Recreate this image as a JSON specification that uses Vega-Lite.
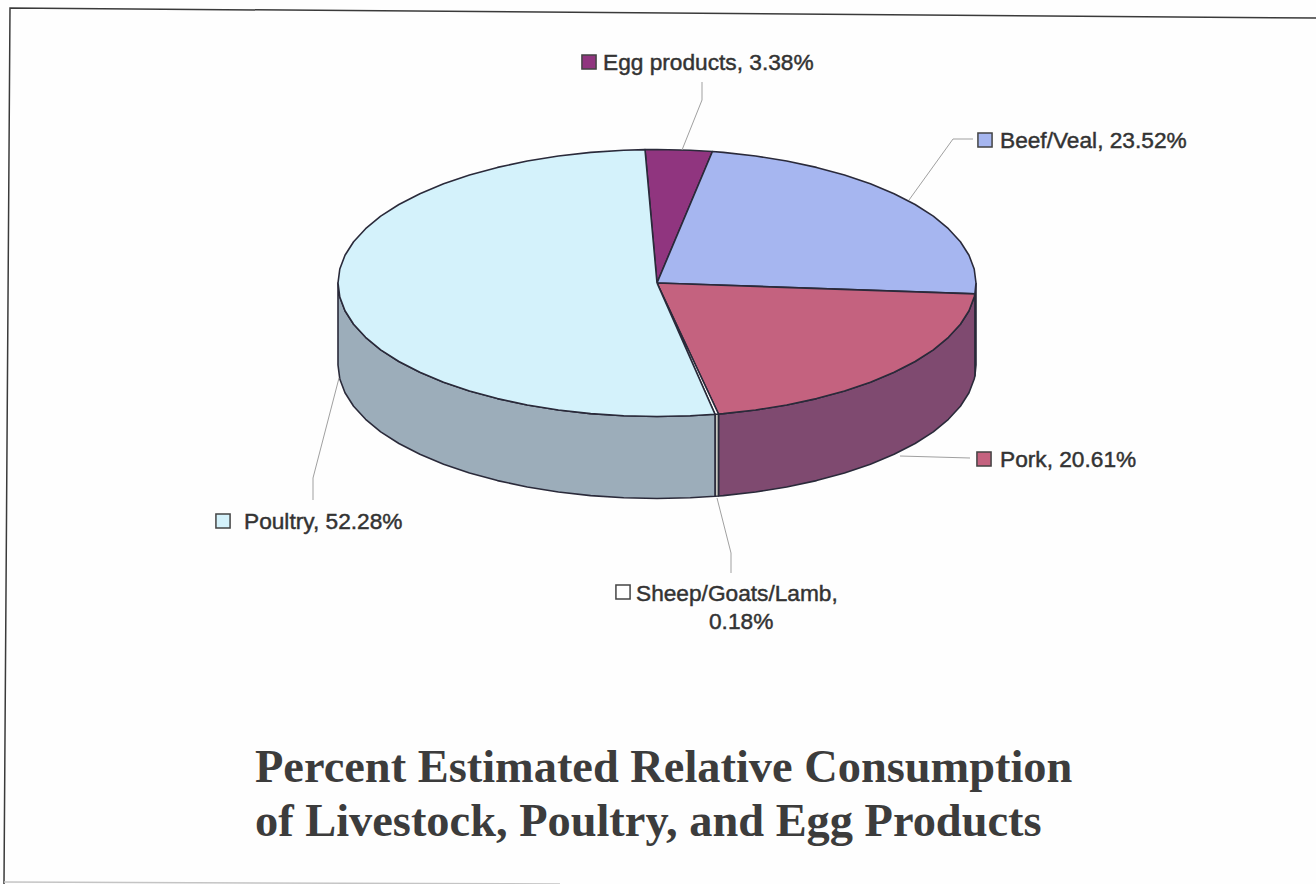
{
  "$schema": "https://vega.github.io/schema/vega-lite/v6.json",
  "width": 1316,
  "height": 884,
  "padding": 0,
  "autosize": "none",
  "background": "#fefefe",
  "view": {"stroke": null},
  "title": {
    "text": ["Percent Estimated Relative Consumption", "of Livestock, Poultry, and Egg Products"],
    "orient": "top",
    "anchor": "start",
    "frame": "group",
    "offset": 0,
    "dx": 255,
    "dy": 882,
    "baseline": "alphabetic",
    "font": "Liberation Serif",
    "fontWeight": "bold",
    "fontSize": 46.4,
    "lineHeight": 54,
    "color": "#3c3c3c"
  },
  "datasets": {
    "slices": [
      {"piece":"Beef/Veal side","n":0,"x":319,"y":0},
      {"piece":"Beef/Veal side","n":1,"x":317.9,"y":-10.9},
      {"piece":"Beef/Veal side","n":2,"x":317.9,"y":-92.9},
      {"piece":"Beef/Veal side","n":3,"x":319,"y":-82},
      {"piece":"Beef/Veal side","n":4,"x":319,"y":0},

      {"piece":"Pork side","n":0,"x":317.9,"y":-10.9},
      {"piece":"Pork side","n":1,"x":317.2,"y":-14},
      {"piece":"Pork side","n":2,"x":312,"y":-27.8},
      {"piece":"Pork side","n":3,"x":303.4,"y":-41.3},
      {"piece":"Pork side","n":4,"x":291.4,"y":-54.3},
      {"piece":"Pork side","n":5,"x":276.3,"y":-66.8},
      {"piece":"Pork side","n":6,"x":258.1,"y":-78.5},
      {"piece":"Pork side","n":7,"x":237.1,"y":-89.3},
      {"piece":"Pork side","n":8,"x":213.4,"y":-99.2},
      {"piece":"Pork side","n":9,"x":187.5,"y":-108},
      {"piece":"Pork side","n":10,"x":159.5,"y":-115.6},
      {"piece":"Pork side","n":11,"x":129.7,"y":-122},
      {"piece":"Pork side","n":12,"x":98.6,"y":-127},
      {"piece":"Pork side","n":13,"x":66.3,"y":-130.6},
      {"piece":"Pork side","n":14,"x":61.5,"y":-131},
      {"piece":"Pork side","n":15,"x":61.5,"y":-213},
      {"piece":"Pork side","n":16,"x":66.3,"y":-212.6},
      {"piece":"Pork side","n":17,"x":98.6,"y":-209},
      {"piece":"Pork side","n":18,"x":129.7,"y":-204},
      {"piece":"Pork side","n":19,"x":159.5,"y":-197.6},
      {"piece":"Pork side","n":20,"x":187.5,"y":-190},
      {"piece":"Pork side","n":21,"x":213.4,"y":-181.2},
      {"piece":"Pork side","n":22,"x":237.1,"y":-171.3},
      {"piece":"Pork side","n":23,"x":258.1,"y":-160.5},
      {"piece":"Pork side","n":24,"x":276.3,"y":-148.8},
      {"piece":"Pork side","n":25,"x":291.4,"y":-136.3},
      {"piece":"Pork side","n":26,"x":303.4,"y":-123.3},
      {"piece":"Pork side","n":27,"x":312,"y":-109.8},
      {"piece":"Pork side","n":28,"x":317.2,"y":-96},
      {"piece":"Pork side","n":29,"x":317.9,"y":-92.9},
      {"piece":"Pork side","n":30,"x":317.9,"y":-10.9},

      {"piece":"Sheep/Goats/Lamb side","n":0,"x":61.5,"y":-131},
      {"piece":"Sheep/Goats/Lamb side","n":1,"x":58,"y":-131.3},
      {"piece":"Sheep/Goats/Lamb side","n":2,"x":58,"y":-213.3},
      {"piece":"Sheep/Goats/Lamb side","n":3,"x":61.5,"y":-213},
      {"piece":"Sheep/Goats/Lamb side","n":4,"x":61.5,"y":-131},

      {"piece":"Poultry side","n":0,"x":58,"y":-131.3},
      {"piece":"Poultry side","n":1,"x":33.3,"y":-132.8},
      {"piece":"Poultry side","n":2,"x":0,"y":-133.5},
      {"piece":"Poultry side","n":3,"x":-33.3,"y":-132.8},
      {"piece":"Poultry side","n":4,"x":-66.3,"y":-130.6},
      {"piece":"Poultry side","n":5,"x":-98.6,"y":-127},
      {"piece":"Poultry side","n":6,"x":-129.7,"y":-122},
      {"piece":"Poultry side","n":7,"x":-159.5,"y":-115.6},
      {"piece":"Poultry side","n":8,"x":-187.5,"y":-108},
      {"piece":"Poultry side","n":9,"x":-213.4,"y":-99.2},
      {"piece":"Poultry side","n":10,"x":-237.1,"y":-89.3},
      {"piece":"Poultry side","n":11,"x":-258.1,"y":-78.5},
      {"piece":"Poultry side","n":12,"x":-276.3,"y":-66.8},
      {"piece":"Poultry side","n":13,"x":-291.4,"y":-54.3},
      {"piece":"Poultry side","n":14,"x":-303.4,"y":-41.3},
      {"piece":"Poultry side","n":15,"x":-312,"y":-27.8},
      {"piece":"Poultry side","n":16,"x":-317.2,"y":-14},
      {"piece":"Poultry side","n":17,"x":-319,"y":0},
      {"piece":"Poultry side","n":18,"x":-319,"y":-82},
      {"piece":"Poultry side","n":19,"x":-317.2,"y":-96},
      {"piece":"Poultry side","n":20,"x":-312,"y":-109.8},
      {"piece":"Poultry side","n":21,"x":-303.4,"y":-123.3},
      {"piece":"Poultry side","n":22,"x":-291.4,"y":-136.3},
      {"piece":"Poultry side","n":23,"x":-276.3,"y":-148.8},
      {"piece":"Poultry side","n":24,"x":-258.1,"y":-160.5},
      {"piece":"Poultry side","n":25,"x":-237.1,"y":-171.3},
      {"piece":"Poultry side","n":26,"x":-213.4,"y":-181.2},
      {"piece":"Poultry side","n":27,"x":-187.5,"y":-190},
      {"piece":"Poultry side","n":28,"x":-159.5,"y":-197.6},
      {"piece":"Poultry side","n":29,"x":-129.7,"y":-204},
      {"piece":"Poultry side","n":30,"x":-98.6,"y":-209},
      {"piece":"Poultry side","n":31,"x":-66.3,"y":-212.6},
      {"piece":"Poultry side","n":32,"x":-33.3,"y":-214.8},
      {"piece":"Poultry side","n":33,"x":0,"y":-215.5},
      {"piece":"Poultry side","n":34,"x":33.3,"y":-214.8},
      {"piece":"Poultry side","n":35,"x":58,"y":-213.3},
      {"piece":"Poultry side","n":36,"x":58,"y":-131.3},

      {"piece":"Egg products","n":0,"x":0,"y":0},
      {"piece":"Egg products","n":1,"x":-12,"y":133.4},
      {"piece":"Egg products","n":2,"x":0,"y":133.5},
      {"piece":"Egg products","n":3,"x":33.3,"y":132.8},
      {"piece":"Egg products","n":4,"x":55.4,"y":131.5},
      {"piece":"Egg products","n":5,"x":0,"y":0},

      {"piece":"Beef/Veal","n":0,"x":0,"y":0},
      {"piece":"Beef/Veal","n":1,"x":55.4,"y":131.5},
      {"piece":"Beef/Veal","n":2,"x":66.3,"y":130.6},
      {"piece":"Beef/Veal","n":3,"x":98.6,"y":127},
      {"piece":"Beef/Veal","n":4,"x":129.7,"y":122},
      {"piece":"Beef/Veal","n":5,"x":159.5,"y":115.6},
      {"piece":"Beef/Veal","n":6,"x":187.5,"y":108},
      {"piece":"Beef/Veal","n":7,"x":213.4,"y":99.2},
      {"piece":"Beef/Veal","n":8,"x":237.1,"y":89.3},
      {"piece":"Beef/Veal","n":9,"x":258.1,"y":78.5},
      {"piece":"Beef/Veal","n":10,"x":276.3,"y":66.8},
      {"piece":"Beef/Veal","n":11,"x":291.4,"y":54.3},
      {"piece":"Beef/Veal","n":12,"x":303.4,"y":41.3},
      {"piece":"Beef/Veal","n":13,"x":312,"y":27.8},
      {"piece":"Beef/Veal","n":14,"x":317.2,"y":14},
      {"piece":"Beef/Veal","n":15,"x":319,"y":0},
      {"piece":"Beef/Veal","n":16,"x":317.9,"y":-10.9},
      {"piece":"Beef/Veal","n":17,"x":0,"y":0},

      {"piece":"Pork","n":0,"x":0,"y":0},
      {"piece":"Pork","n":1,"x":317.9,"y":-10.9},
      {"piece":"Pork","n":2,"x":317.2,"y":-14},
      {"piece":"Pork","n":3,"x":312,"y":-27.8},
      {"piece":"Pork","n":4,"x":303.4,"y":-41.3},
      {"piece":"Pork","n":5,"x":291.4,"y":-54.3},
      {"piece":"Pork","n":6,"x":276.3,"y":-66.8},
      {"piece":"Pork","n":7,"x":258.1,"y":-78.5},
      {"piece":"Pork","n":8,"x":237.1,"y":-89.3},
      {"piece":"Pork","n":9,"x":213.4,"y":-99.2},
      {"piece":"Pork","n":10,"x":187.5,"y":-108},
      {"piece":"Pork","n":11,"x":159.5,"y":-115.6},
      {"piece":"Pork","n":12,"x":129.7,"y":-122},
      {"piece":"Pork","n":13,"x":98.6,"y":-127},
      {"piece":"Pork","n":14,"x":66.3,"y":-130.6},
      {"piece":"Pork","n":15,"x":61.5,"y":-131},
      {"piece":"Pork","n":16,"x":0,"y":0},

      {"piece":"Sheep/Goats/Lamb","n":0,"x":0,"y":0},
      {"piece":"Sheep/Goats/Lamb","n":1,"x":61.5,"y":-131},
      {"piece":"Sheep/Goats/Lamb","n":2,"x":58,"y":-131.3},
      {"piece":"Sheep/Goats/Lamb","n":3,"x":0,"y":0},

      {"piece":"Poultry","n":0,"x":0,"y":0},
      {"piece":"Poultry","n":1,"x":58,"y":-131.3},
      {"piece":"Poultry","n":2,"x":33.3,"y":-132.8},
      {"piece":"Poultry","n":3,"x":0,"y":-133.5},
      {"piece":"Poultry","n":4,"x":-33.3,"y":-132.8},
      {"piece":"Poultry","n":5,"x":-66.3,"y":-130.6},
      {"piece":"Poultry","n":6,"x":-98.6,"y":-127},
      {"piece":"Poultry","n":7,"x":-129.7,"y":-122},
      {"piece":"Poultry","n":8,"x":-159.5,"y":-115.6},
      {"piece":"Poultry","n":9,"x":-187.5,"y":-108},
      {"piece":"Poultry","n":10,"x":-213.4,"y":-99.2},
      {"piece":"Poultry","n":11,"x":-237.1,"y":-89.3},
      {"piece":"Poultry","n":12,"x":-258.1,"y":-78.5},
      {"piece":"Poultry","n":13,"x":-276.3,"y":-66.8},
      {"piece":"Poultry","n":14,"x":-291.4,"y":-54.3},
      {"piece":"Poultry","n":15,"x":-303.4,"y":-41.3},
      {"piece":"Poultry","n":16,"x":-312,"y":-27.8},
      {"piece":"Poultry","n":17,"x":-317.2,"y":-14},
      {"piece":"Poultry","n":18,"x":-319,"y":0},
      {"piece":"Poultry","n":19,"x":-317.2,"y":14},
      {"piece":"Poultry","n":20,"x":-312,"y":27.8},
      {"piece":"Poultry","n":21,"x":-303.4,"y":41.3},
      {"piece":"Poultry","n":22,"x":-291.4,"y":54.3},
      {"piece":"Poultry","n":23,"x":-276.3,"y":66.8},
      {"piece":"Poultry","n":24,"x":-258.1,"y":78.5},
      {"piece":"Poultry","n":25,"x":-237.1,"y":89.3},
      {"piece":"Poultry","n":26,"x":-213.4,"y":99.2},
      {"piece":"Poultry","n":27,"x":-187.5,"y":108},
      {"piece":"Poultry","n":28,"x":-159.5,"y":115.6},
      {"piece":"Poultry","n":29,"x":-129.7,"y":122},
      {"piece":"Poultry","n":30,"x":-98.6,"y":127},
      {"piece":"Poultry","n":31,"x":-66.3,"y":130.6},
      {"piece":"Poultry","n":32,"x":-33.3,"y":132.8},
      {"piece":"Poultry","n":33,"x":-12,"y":133.4},
      {"piece":"Poultry","n":34,"x":0,"y":0}
    ],
    "leaders": [
      {"category":"Egg products","n":0,"x":25,"y":133},
      {"category":"Egg products","n":1,"x":45,"y":183},
      {"category":"Egg products","n":2,"x":45,"y":201},
      {"category":"Beef/Veal","n":0,"x":252,"y":83},
      {"category":"Beef/Veal","n":1,"x":296,"y":144},
      {"category":"Beef/Veal","n":2,"x":316,"y":144},
      {"category":"Pork","n":0,"x":243,"y":-173},
      {"category":"Pork","n":1,"x":313,"y":-175},
      {"category":"Sheep/Goats/Lamb","n":0,"x":60,"y":-215},
      {"category":"Sheep/Goats/Lamb","n":1,"x":74,"y":-270},
      {"category":"Sheep/Goats/Lamb","n":2,"x":74,"y":-290},
      {"category":"Poultry","n":0,"x":-318,"y":-95},
      {"category":"Poultry","n":1,"x":-344,"y":-195},
      {"category":"Poultry","n":2,"x":-344,"y":-217}
    ],
    "keys": [
      {"piece":"Egg products","value":3.38,"x":-68,"y":221},
      {"piece":"Beef/Veal","value":23.52,"x":328,"y":143},
      {"piece":"Pork","value":20.61,"x":327,"y":-176},
      {"piece":"Sheep/Goats/Lamb","value":0.18,"x":-34,"y":-309},
      {"piece":"Poultry","value":52.28,"x":-434,"y":-238}
    ],
    "labels": [
      {"label":"Egg products, 3.38%","x":-54,"y":213},
      {"label":"Beef/Veal, 23.52%","x":343,"y":135},
      {"label":"Pork, 20.61%","x":343,"y":-184},
      {"label":"Sheep/Goats/Lamb,","x":-21,"y":-318},
      {"label":"0.18%","x":52,"y":-346},
      {"label":"Poultry, 52.28%","x":-413,"y":-246}
    ],
    "frame": [
      {"edge":"outer","n":0,"x":-653,"y":-601},
      {"edge":"outer","n":1,"x":-647,"y":275},
      {"edge":"outer","n":2,"x":659,"y":265},
      {"edge":"foot","n":0,"x":-653,"y":-599},
      {"edge":"foot","n":1,"x":-97,"y":-601}
    ]
  },
  "encoding": {
    "x": {"field":"x","type":"quantitative","axis":null,"scale":{"domain":[-657,659],"nice":false,"zero":false}},
    "y": {"field":"y","type":"quantitative","axis":null,"scale":{"domain":[-601,283],"nice":false,"zero":false}}
  },
  "layer": [
    {
      "data": {"name":"frame"},
      "mark": {"type":"line","strokeWidth":1.5},
      "encoding": {
        "color": {"field":"edge","type":"nominal","legend":null,"scale":{"domain":["outer","foot"],"range":["#3a3a3a","#c4c4c4"]}},
        "order": {"field":"n","type":"ordinal"}
      }
    },
    {
      "data": {"name":"slices"},
      "mark": {"type":"line","strokeWidth":1.6,"strokeJoin":"round","stroke":"#2a2a3a"},
      "encoding": {
        "fill": {
          "field":"piece",
          "type":"nominal",
          "legend":null,
          "scale":{
            "domain":["Egg products","Beef/Veal","Pork","Sheep/Goats/Lamb","Poultry","Beef/Veal side","Pork side","Sheep/Goats/Lamb side","Poultry side"],
            "range":["#90357f","#a6b6f0","#c4627f","#ffffff","#d4f2fb","#6f7aa0","#7f4a70","#c8c8c0","#9cadba"]
          }
        },
        "detail": {"field":"piece"},
        "order": {"field":"n","type":"ordinal"}
      }
    },
    {
      "data": {"name":"leaders"},
      "mark": {"type":"line","strokeWidth":1,"color":"#a0a0a0"},
      "encoding": {
        "detail": {"field":"category"},
        "order": {"field":"n","type":"ordinal"}
      }
    },
    {
      "data": {"name":"keys"},
      "mark": {"type":"point","shape":"square","filled":true,"size":200,"stroke":"#444444","strokeWidth":1.5,"opacity":1},
      "encoding": {
        "fill": {
          "field":"piece",
          "type":"nominal",
          "legend":null,
          "scale":{
            "domain":["Egg products","Beef/Veal","Pork","Sheep/Goats/Lamb","Poultry","Beef/Veal side","Pork side","Sheep/Goats/Lamb side","Poultry side"],
            "range":["#90357f","#a6b6f0","#c4627f","#ffffff","#d4f2fb","#6f7aa0","#7f4a70","#c8c8c0","#9cadba"]
          }
        }
      }
    },
    {
      "data": {"name":"labels"},
      "mark": {"type":"text","align":"left","baseline":"alphabetic","font":"Liberation Sans","fontSize":22.7,"color":"#333333","stroke":"#333333","strokeWidth":0.45},
      "encoding": {
        "text": {"field":"label","type":"nominal"}
      }
    }
  ]
}
